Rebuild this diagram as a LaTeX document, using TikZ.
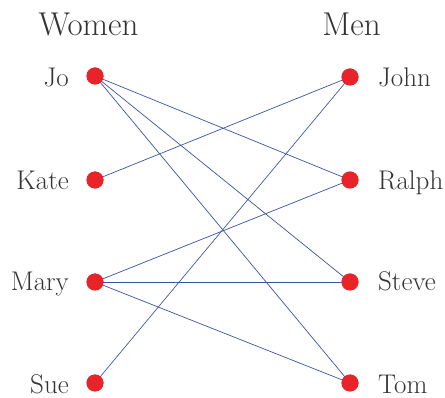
\documentclass[tikz,border=0pt]{standalone}
\usepackage{fontspec}
\begin{document}
\begin{tikzpicture}[x=1pt,y=-1pt,
  dot/.style={circle,fill=dotred,inner sep=0pt,minimum size=17pt},
  lbl/.style={text=txtgray,font=\fontsize{27}{30}\selectfont,inner sep=0pt},
  head/.style={text=txtgray,font=\fontsize{33}{36}\selectfont,inner sep=0pt,anchor=base},
  edge/.style={draw=lineblue,line width=0.7pt}]
\definecolor{dotred}{HTML}{E8232A}
\definecolor{txtgray}{HTML}{333333}
\definecolor{lineblue}{HTML}{3B53A4}
\useasboundingbox (0,0) rectangle (445,398);
\node[head] (women) at (88.5,36) {Women};
\node[head] (men) at (351.5,36) {Men};
\node[dot] (jo) at (95,76) {};
\node[dot] (kate) at (95,180) {};
\node[dot] (mary) at (95,282) {};
\node[dot] (sue) at (95,383) {};
\node[dot] (john) at (350,77) {};
\node[dot] (ralph) at (350,180) {};
\node[dot] (steve) at (350,282) {};
\node[dot] (tom) at (350,383) {};
\node[lbl,anchor=base east] (ljo) at (69,87) {Jo};
\node[lbl,anchor=base east] (lkate) at (69,190) {Kate};
\node[lbl,anchor=base east] (lmary) at (69,291) {Mary};
\node[lbl,anchor=base east] (lsue) at (69,394) {Sue};
\node[lbl,anchor=base west] (ljohn) at (378,87) {John};
\node[lbl,anchor=base west] (lralph) at (378,190) {Ralph};
\node[lbl,anchor=base west] (lsteve) at (378,291) {Steve};
\node[lbl,anchor=base west] (ltom) at (378,394) {Tom};
\draw[edge] (jo.center) -- (ralph.center);
\draw[edge] (jo.center) -- (steve.center);
\draw[edge] (jo.center) -- (tom.center);
\draw[edge] (kate.center) -- (john.center);
\draw[edge] (mary.center) -- (ralph.center);
\draw[edge] (mary.center) -- (steve.center);
\draw[edge] (mary.center) -- (tom.center);
\draw[edge] (sue.center) -- (john.center);
\foreach \n in {jo,kate,mary,sue,john,ralph,steve,tom}
  \fill[dotred] (\n) circle (8.5pt);
\end{tikzpicture}
\end{document}
